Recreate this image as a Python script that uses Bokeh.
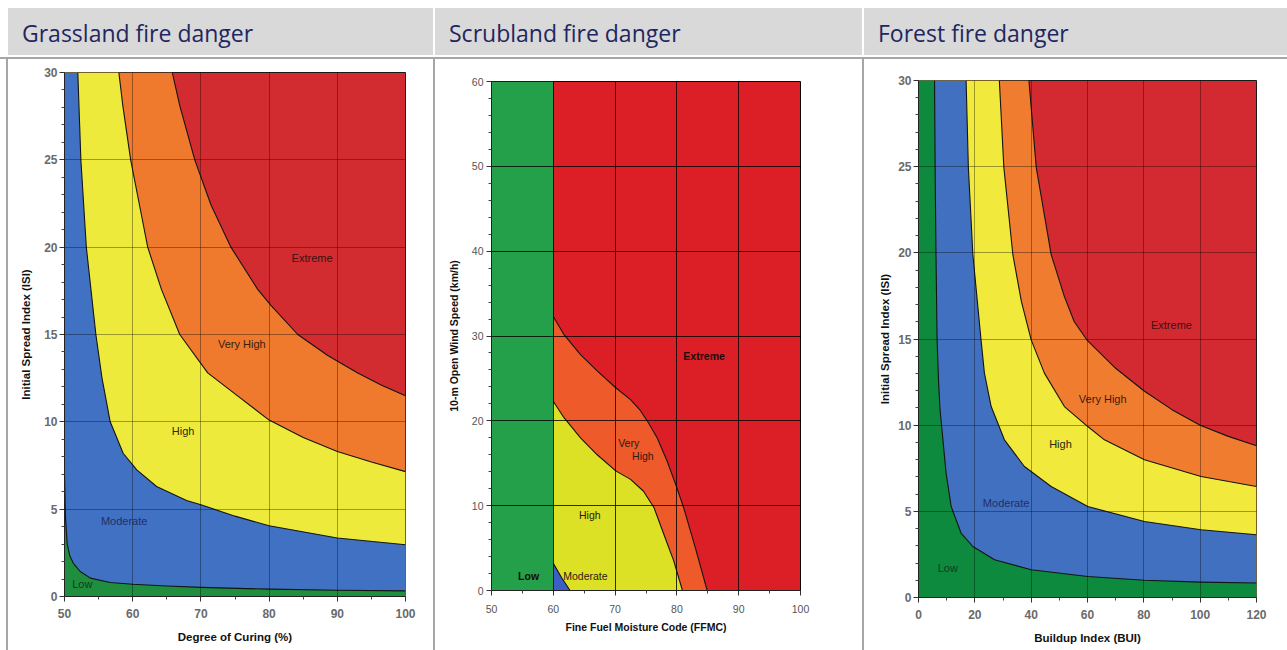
from bokeh.plotting import figure
from bokeh.models import Range1d, FixedTicker, Div
from bokeh.layouts import row, column
from bokeh.core.properties import value
from bokeh.embed import file_html
from bokeh.resources import INLINE

# ---------------- Grassland fire danger ----------------
G_TITLE = "Grassland fire danger"
G_XLABEL = "Degree of Curing (%)"
G_YLABEL = "Initial Spread Index (ISI)"
G_XRANGE = (50, 100)
G_YRANGE = (0, 30)
G_XTICKS = [50, 60, 70, 80, 90, 100]
G_XMINOR = [55, 65, 75, 85, 95]
G_YTICKS = [0, 5, 10, 15, 20, 25, 30]
G_YMINOR = [1, 2, 3, 4, 6, 7, 8, 9, 11, 12, 13, 14, 16, 17, 18, 19, 21, 22, 23, 24, 26, 27, 28, 29]
# boundary Low / Moderate
G_B1_X = [50.0, 50.15, 50.4, 50.8, 51.3, 52.3, 53.8, 56.7, 60, 65, 70, 80, 90, 100]
G_B1_Y = [7.0, 4.5, 3.0, 2.3, 1.9, 1.43, 1.05, 0.80, 0.70, 0.60, 0.52, 0.42, 0.36, 0.32]
# boundary Moderate / High
G_B2_X = [51.95, 52.4, 53.2, 54.6, 55.5, 56.7, 58.6, 60.6, 63.5, 67.9, 70, 75, 80, 90, 100]
G_B2_Y = [30, 25, 20, 15, 12.5, 10, 8.2, 7.25, 6.3, 5.5, 5.25, 4.6, 4.05, 3.35, 2.96]
# boundary High / Very High
G_B3_X = [57.97, 58.55, 59.7, 61.0, 62.2, 64.2, 66.9, 71.0, 75, 80, 85, 90, 95, 100]
G_B3_Y = [30, 28.1, 25, 22.4, 20, 17.6, 15, 12.8, 11.6, 10.1, 9.1, 8.3, 7.7, 7.15]
# boundary Very High / Extreme
G_B4_X = [65.8, 66.9, 69.1, 71.5, 74.4, 78.3, 80.3, 84.2, 88.6, 93.0, 96.5, 100]
G_B4_Y = [30, 28.1, 25, 22.4, 20, 17.6, 16.65, 15, 13.8, 12.8, 12.1, 11.5]
G_LABELS = ["Extreme", "Very High", "High", "Moderate", "Low"]
G_LABEL_X = [86.3, 76.0, 67.4, 58.75, 52.6]
G_LABEL_Y = [19.4, 14.45, 9.45, 4.3, 0.72]

# ---------------- Scrubland fire danger ----------------
S_TITLE = "Scrubland fire danger"
S_XLABEL = "Fine Fuel Moisture Code (FFMC)"
S_YLABEL = "10-m Open Wind Speed (km/h)"
S_XRANGE = (50, 100)
S_YRANGE = (0, 60)
S_XTICKS = [50, 60, 70, 80, 90, 100]
S_XMINOR = [55, 65, 75, 85, 95]
S_YTICKS = [0, 10, 20, 30, 40, 50, 60]
S_YMINOR = [2, 4, 6, 8, 12, 14, 16, 18, 22, 24, 26, 28, 32, 34, 36, 38, 42, 44, 46, 48, 52, 54, 56, 58]
S_LOW_FFMC = 60  # below this FFMC the danger is Low
# boundary Very High / Extreme
S_B_UP_X = [60, 61.7, 64.4, 67.1, 70.1, 72.5, 74.0, 75.2, 76.8, 78.4, 80.0, 81.1, 83.0, 84.9]
S_B_UP_Y = [32.3, 30.2, 27.8, 25.9, 23.9, 22.5, 21.3, 20.0, 18.0, 15.3, 12.1, 9.75, 5.0, 0]
# boundary High / Very High
S_B_MID_X = [60, 61.7, 64.4, 67.1, 70.1, 72.5, 74.6, 76.3, 77.9, 79.5, 80.9]
S_B_MID_Y = [22.3, 20.4, 18.0, 16.0, 14.1, 13.1, 11.7, 9.75, 6.6, 3.46, 0]
# boundary Moderate / High
S_B_LOW_X = [60, 61.35, 62.7]
S_B_LOW_Y = [3.2, 1.5, 0]
S_LABELS_BOLD = ["Extreme", "Low"]
S_LABEL_BOLD_X = [84.4, 56.0]
S_LABEL_BOLD_Y = [27.6, 1.7]
S_LABELS = ["Very", "High", "High", "Moderate"]
S_LABEL_X = [72.2, 74.5, 65.9, 65.2]
S_LABEL_Y = [17.4, 15.8, 8.85, 1.7]

# ---------------- Forest fire danger ----------------
F_TITLE = "Forest fire danger"
F_XLABEL = "Buildup Index (BUI)"
F_YLABEL = "Initial Spread Index (ISI)"
F_XRANGE = (0, 120)
F_YRANGE = (0, 30)
F_XTICKS = [0, 20, 40, 60, 80, 100, 120]
F_XMINOR = [10, 30, 50, 70, 90, 110]
F_YTICKS = [0, 5, 10, 15, 20, 25, 30]
F_YMINOR = G_YMINOR
F_B1_X = [5.7, 5.9, 6.2, 6.6, 7.1, 7.6, 9.8, 11.6, 15.1, 19.3, 27.0, 40.0, 60.1, 80.2, 100.3, 120]
F_B1_Y = [30, 25, 20, 15, 12.6, 11.0, 7.2, 5.28, 3.74, 2.96, 2.19, 1.61, 1.22, 1.0, 0.89, 0.84]
F_B2_X = [16.9, 17.7, 19.3, 22.2, 23.4, 25.8, 30.5, 37.6, 47.1, 60.1, 80.2, 100.3, 120]
F_B2_Y = [30, 24.96, 19.9, 14.95, 13.02, 11.08, 9.15, 7.6, 6.44, 5.28, 4.41, 3.93, 3.64]
F_B3_X = [28.7, 30.3, 33.5, 36.5, 40.0, 44.7, 51.8, 60.1, 66.0, 80.2, 100.3, 120]
F_B3_Y = [30, 24.96, 19.9, 17.2, 14.95, 13.02, 11.08, 9.92, 9.15, 7.99, 7.02, 6.44]
F_B4_X = [39.2, 41.8, 47.1, 51.8, 55.3, 60, 70, 80, 90, 100, 110, 120]
F_B4_Y = [30, 24.96, 19.9, 17.46, 16.0, 14.9, 13.3, 12.0, 10.9, 10.0, 9.35, 8.8]
F_LABELS = ["Extreme", "Very High", "High", "Moderate", "Low"]
F_LABEL_X = [89.8, 65.4, 50.4, 31.1, 10.4]
F_LABEL_Y = [15.8, 11.5, 8.92, 5.51, 1.69]

TICK_FONT = "Liberation Sans"


def region_below(cx, cy, xmin, ymin):
    xs = [xmin, xmin] + list(cx) + [cx[-1]]
    ys = [ymin, cy[0]] + list(cy) + [ymin]
    return xs, ys


def base_fig(xr, yr, fw, fh, bl, br, bt, bb, bg):
    p = figure(x_range=Range1d(*xr), y_range=Range1d(*yr),
               frame_width=fw, frame_height=fh,
               min_border_left=bl, min_border_right=br,
               min_border_top=bt, min_border_bottom=bb,
               output_backend="svg", toolbar_location=None, title=None)
    p.background_fill_color = bg
    p.border_fill_color = "white"
    p.outline_line_color = "#1a1a1a"
    p.outline_line_width = 1
    return p


def style_axes(p, xt, xm, yt, ym, xlab, ylab, tsize, tcolor, tstyle, lsize,
               xstand, ystand, xlstand, ylstand, grid_color, grid_alpha):
    p.xaxis.ticker = FixedTicker(ticks=xt, minor_ticks=xm)
    p.yaxis.ticker = FixedTicker(ticks=yt, minor_ticks=ym)
    p.xgrid.ticker = FixedTicker(ticks=xt[1:-1])
    p.ygrid.ticker = FixedTicker(ticks=yt[1:-1])
    for gr in (p.xgrid, p.ygrid):
        gr.grid_line_color = grid_color
        gr.grid_line_alpha = grid_alpha
        gr.grid_line_width = 1
        gr.level = "guide"
    for ax in (p.xaxis, p.yaxis):
        ax.axis_line_color = "#222222"
        ax.major_tick_line_color = "#333333"
        ax.minor_tick_line_color = "#444444"
        ax.major_tick_out = 5
        ax.major_tick_in = 0
        ax.minor_tick_out = 3
        ax.minor_tick_in = 0
        ax.major_label_text_font = TICK_FONT
        ax.major_label_text_font_size = tsize
        ax.major_label_text_color = tcolor
        ax.major_label_text_font_style = tstyle
        ax.axis_label_text_font = TICK_FONT
        ax.axis_label_text_font_size = lsize
        ax.axis_label_text_font_style = "bold"
        ax.axis_label_text_color = "#111111"
    p.xaxis.axis_label = xlab
    p.yaxis.axis_label = ylab
    p.xaxis.major_label_standoff = xstand
    p.yaxis.major_label_standoff = ystand
    p.xaxis.axis_label_standoff = xlstand
    p.yaxis.axis_label_standoff = ylstand


def add_bands(p, curves, colors, xmin, ymin):
    for (cx, cy), col in zip(curves, colors):
        xs, ys = region_below(cx, cy, xmin, ymin)
        p.patch(xs, ys, fill_color=col, line_color=None)
    for cx, cy in curves:
        p.line(cx, cy, line_color="#141414", line_width=1.1, line_join="round")


TOP = 13  # common top border (frames aligned by spacers)

# ---- Grassland ----
g = base_fig(G_XRANGE, G_YRANGE, 341, 524, 56, 28, TOP, 50, "#d22b30")
add_bands(g, [(G_B4_X, G_B4_Y), (G_B3_X, G_B3_Y), (G_B2_X, G_B2_Y), (G_B1_X, G_B1_Y)],
          ["#ef7a2e", "#eeea3c", "#4171c2", "#1f8f3f"], G_XRANGE[0], G_YRANGE[0])
style_axes(g, G_XTICKS, G_XMINOR, G_YTICKS, G_YMINOR, G_XLABEL, G_YLABEL,
           "12px", "#6a6a6a", "bold", "11.5px", 7, 2, 10, 9, "#000000", 0.35)
g.text(G_LABEL_X, G_LABEL_Y, text=G_LABELS, text_font=value(TICK_FONT),
       text_font_size="11px", text_align="center", text_baseline="middle",
       text_color=["#3a1212", "#3a1c0c", "#2a2a10", "#1f2f6b", "#123a1e"])

# ---- Scrubland ----
s = base_fig(S_XRANGE, S_YRANGE, 309, 509, 56, 62, TOP, 50, "#dc1f27")
s.quad(left=[S_XRANGE[0]], right=[S_LOW_FFMC], bottom=[S_YRANGE[0]], top=[S_YRANGE[1]],
       fill_color="#23a049", line_color=None)
add_bands(s, [(S_B_UP_X, S_B_UP_Y), (S_B_MID_X, S_B_MID_Y), (S_B_LOW_X, S_B_LOW_Y)],
          ["#ee5a2a", "#dde125", "#3b5fc4"], S_LOW_FFMC, S_YRANGE[0])
style_axes(s, S_XTICKS, S_XMINOR, S_YTICKS, S_YMINOR, S_XLABEL, S_YLABEL,
           "10.5px", "#555555", "normal", "10.5px", 9, 3, 5, 9, "#000000", 0.8)
s.outline_line_color = "#000000"
s.text(S_LABEL_BOLD_X, S_LABEL_BOLD_Y, text=S_LABELS_BOLD, text_font=value(TICK_FONT),
       text_font_size="10.5px", text_font_style="bold", text_align="center",
       text_baseline="middle", text_color="#1a0a0a")
s.text(S_LABEL_X, S_LABEL_Y, text=S_LABELS, text_font=value(TICK_FONT),
       text_font_size="10.5px", text_align="center", text_baseline="middle",
       text_color="#2a1a10")

# ---- Forest ----
f = base_fig(F_XRANGE, F_YRANGE, 338, 517, 54, 31, TOP, 50, "#d32a31")
add_bands(f, [(F_B4_X, F_B4_Y), (F_B3_X, F_B3_Y), (F_B2_X, F_B2_Y), (F_B1_X, F_B1_Y)],
          ["#f07c2f", "#f1e93b", "#4270c0", "#0e8a3e"], F_XRANGE[0], F_YRANGE[0])
style_axes(f, F_XTICKS, F_XMINOR, F_YTICKS, F_YMINOR, F_XLABEL, F_YLABEL,
           "12px", "#6a6a6a", "bold", "11.5px", 7, 2, 10, 4, "#000000", 0.35)
f.text(F_LABEL_X, F_LABEL_Y, text=F_LABELS, text_font=value(TICK_FONT),
       text_font_size="11px", text_align="center", text_baseline="middle",
       text_color=["#3a1212", "#3a1c0c", "#2a2a10", "#1f2f6b", "#123a1e"])

# ---- page layout (header cells, separators) ----
HEAD_BG = "#d9d9d9"
SEP = "#a6a6a6"
PAGE_W = 1287
BODY_H = 591


def head_cell(txt, w):
    html = ('<div style="padding:9px 0 0 14px;font-family:\'Open Sans\';font-size:23px;'
            'line-height:32px;color:#1f2660;white-space:nowrap;">%s</div>' % txt)
    return Div(text=html, width=w, height=47, margin=0,
               styles={"background-color": HEAD_BG})


def block(w, h, color):
    return Div(text="", width=w, height=h, margin=0, styles={"background-color": color})


header = row(block(8, 47, "white"), head_cell(G_TITLE, 425), block(2, 47, "white"),
             head_cell(S_TITLE, 427), block(2, 47, "white"),
             head_cell(F_TITLE, 423), spacing=0)
body = row(block(6, BODY_H, "white"), block(2, BODY_H, SEP), g,
           block(2, BODY_H, SEP), column(block(427, 9, "white"), s, spacing=0),
           block(2, BODY_H, SEP), column(block(423, 8, "white"), f, spacing=0),
           spacing=0)
page = column(block(PAGE_W, 8, "white"), header, block(PAGE_W, 2, "white"),
              block(PAGE_W, 2, SEP), body, spacing=0)

open("out.html", "w").write(file_html(page, INLINE))
